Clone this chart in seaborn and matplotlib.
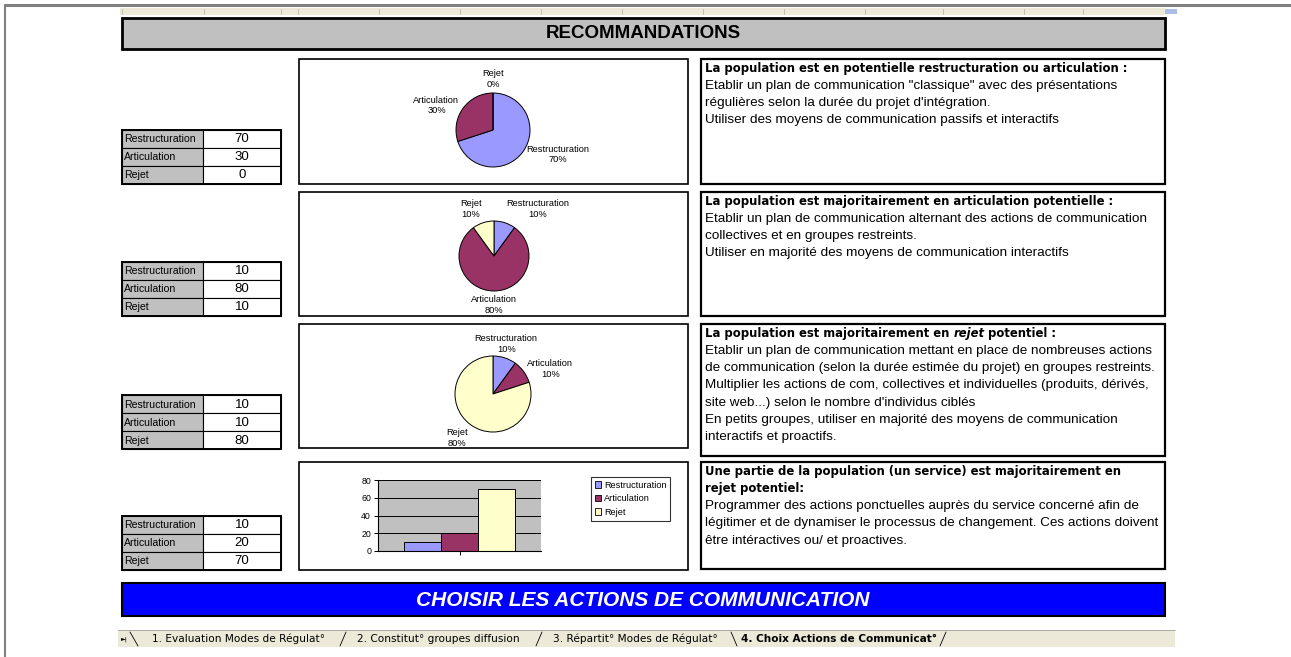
import math
import matplotlib
matplotlib.use("Agg")
import matplotlib.pyplot as plt
from matplotlib.patches import Rectangle, Patch
import pandas as pd
import seaborn as sns

categories = ["Restructuration", "Articulation", "Rejet"]
couleurs = ["#9999ff", "#993366", "#ffffcc"]
profil_1 = [70, 30, 0]
profil_2 = [10, 80, 10]
profil_3 = [10, 10, 80]
profil_4 = [10, 20, 70]
ticks_barres = [0, 20, 40, 60, 80]

titre_1 = ["La population est en potentielle restructuration ou articulation :"]
texte_1 = ['Etablir un plan de communication "classique" avec des présentations',
           "régulières selon la durée du projet d'intégration.",
           "Utiliser des moyens de communication passifs et interactifs"]
titre_2 = ["La population est majoritairement en articulation potentielle :"]
texte_2 = ["Etablir un plan de communication alternant des actions de communication",
           "collectives et en groupes restreints.",
           "Utiliser en majorité des moyens de communication interactifs"]
titre_3 = [[("La population est majoritairement en ", "normal"), ("rejet", "italic"),
            (" potentiel :", "normal")]]
texte_3 = ["Etablir un plan de communication mettant en place de nombreuses actions",
           "de communication (selon la durée estimée du projet) en groupes restreints.",
           "Multiplier les actions de com, collectives et individuelles (produits, dérivés,",
           "site web...) selon le nombre d'individus ciblés",
           "En petits groupes, utiliser en majorité des moyens de communication",
           "interactifs et proactifs."]
titre_4 = ["Une partie de la population (un service) est majoritairement en",
           "rejet potentiel:"]
texte_4 = ["Programmer des actions ponctuelles auprès du service concerné afin de",
           "légitimer et de dynamiser le processus de changement. Ces actions doivent",
           "être intéractives ou/ et proactives."]
onglets = ["1. Evaluation Modes de Régulat°", "2. Constitut° groupes diffusion",
           "3. Répartit° Modes de Régulat°", "4. Choix Actions de Communicat°"]

sns.set_theme(style="white")
plt.rcParams["font.family"] = ["Liberation Sans", "DejaVu Sans"]
plt.rcParams["text.color"] = "black"
plt.rcParams["xtick.color"] = "black"
plt.rcParams["ytick.color"] = "black"
plt.rcParams["axes.labelcolor"] = "black"

W, H = 1291, 657
fig = plt.figure(figsize=(W / 100, H / 100), dpi=100)
fig.patch.set_facecolor("white")

cv = fig.add_axes([0, 0, 1, 1])
cv.set_xlim(0, W)
cv.set_ylim(H, 0)
cv.axis("off")


def px_ax(x0, y0, x1, y1):
    return fig.add_axes([x0 / W, 1 - y1 / H, (x1 - x0) / W, (y1 - y0) / H])


def rect(x0, y0, x1, y1, fc="none", ec="black", lw=1.0, z=1):
    cv.add_patch(Rectangle((x0, y0), x1 - x0, y1 - y0, facecolor=fc,
                           edgecolor=ec, linewidth=lw, zorder=z))


# cadre de la fenetre et regle des colonnes
cv.plot([5, W], [5, 5], color="#808080", lw=2.2)
cv.plot([5, 5], [5, H], color="#808080", lw=1.5)
rect(120, 8, 1165, 15, fc="#ece9d8", ec="none")
for sx in [122, 204, 281, 298, 379, 460, 541, 622, 703, 784, 865, 943, 1024, 1083]:
    cv.plot([sx, sx], [9, 14], color="#b8b4a0", lw=0.6)
rect(1165, 9, 1177, 14, fc="#a9bde6", ec="none")

# bandeau du haut
rect(122, 18, 1165, 49, fc="#c0c0c0", ec="black", lw=2)
cv.text(643, 34, "RECOMMANDATIONS", ha="center", va="center", fontsize=13.5,
        fontweight="bold")


def tableau(top, valeurs):
    for i, (nom, v) in enumerate(zip(categories, valeurs)):
        y0 = top + 18 * i
        rect(122, y0, 203, y0 + 18, fc="#c0c0c0", lw=0.8)
        rect(203, y0, 281, y0 + 18, fc="white", lw=0.8)
        cv.text(124, y0 + 9.5, nom, va="center", fontsize=7.6)
        cv.text(242, y0 + 9.5, str(v), ha="center", va="center", fontsize=9.5)
    rect(122, top, 281, top + 54, lw=1.4, z=3)


def camembert(cx, cy, r, valeurs):
    ax = px_ax(cx - 2.2 * r, cy - 2.2 * r, cx + 2.2 * r, cy + 2.2 * r)
    ax.set_facecolor("none")
    total = sum(valeurs)
    etiquettes = [f"{n}\n{v / total * 100:.0f}%" for n, v in zip(categories, valeurs)]
    _, textes = ax.pie(valeurs, colors=couleurs, startangle=90, counterclock=False,
                       labels=etiquettes, labeldistance=1.1,
                       wedgeprops=dict(edgecolor="black", linewidth=0.7),
                       textprops=dict(fontsize=6.7))
    ax.set_xlim(-2.2, 2.2)
    ax.set_ylim(-2.2, 2.2)
    ax.axis("off")
    # etiquettes posees juste a l'exterieur du disque, comme dans Excel
    angles = []
    for t in textes:
        x, y = t.get_position()
        a = math.atan2(y, x)
        angles.append(a)
        c, s = math.cos(a), math.sin(a)
        t.set_position((1.12 * c, 1.12 * s))
        t.set_ha("center" if abs(c) < 0.35 else ("left" if c > 0 else "right"))
        t.set_va("bottom" if s > 0.7 else ("top" if s < -0.7 else "center"))
        t.set_multialignment("center")
    rend = fig.canvas.get_renderer()
    boites = [t.get_window_extent(rend) for t in textes]
    for i in range(len(textes)):
        for j in range(i + 1, len(textes)):
            if boites[i].overlaps(boites[j]):
                for k in (i, j):
                    textes[k].set_ha("left" if math.cos(angles[k]) > 0 else "right")


def encadre(top, bottom, titres, lignes):
    rect(701, top, 1165, bottom, fc="white", lw=1.6)
    y = top + 9.5
    for t in titres:
        if isinstance(t, str):
            cv.text(705, y, t, va="center", fontsize=8.4, fontweight="bold",
                    family="DejaVu Sans")
        else:
            prev = None
            for morceau, style in t:
                if prev is None:
                    prev = cv.text(705, y, morceau, va="center", fontsize=8.4,
                                   fontweight="bold", style=style, family="DejaVu Sans")
                else:
                    prev = cv.annotate(morceau, xy=(1, 0), xycoords=prev, va="bottom",
                                       ha="left", fontsize=8.4, fontweight="bold",
                                       style=style, family="DejaVu Sans")
        y += 17.3
    for l in lignes:
        cv.text(705, y, l, va="center", fontsize=9.7)
        y += 17.3


# cadres des graphiques
for top, bottom in [(59, 184), (192, 316), (324, 448), (462, 570)]:
    rect(299, top, 688, bottom, fc="white", lw=1.2)

tableau(130, profil_1)
tableau(262, profil_2)
tableau(395, profil_3)
tableau(516, profil_4)

camembert(493, 130, 37, profil_1)
camembert(494, 256, 35, profil_2)
camembert(493, 394, 38, profil_3)

encadre(59, 184, titre_1, texte_1)
encadre(192, 316, titre_2, texte_2)
encadre(324, 456, titre_3, texte_3)
encadre(462, 569, titre_4, texte_4)

# histogramme
df = pd.DataFrame({"serie": [""] * 3, "categorie": categories, "valeur": profil_4})
bx = px_ax(378, 480, 541, 551)
sns.barplot(data=df, x="serie", y="valeur", hue="categorie", hue_order=categories,
            palette=couleurs, width=0.675, edgecolor="black", linewidth=0.7,
            legend=False, ax=bx, saturation=1)
bx.set_facecolor("#c0c0c0")
bx.set_ylim(0, 80)
bx.set_yticks(ticks_barres)
bx.set_yticklabels([str(t) for t in ticks_barres], fontsize=6.3)
bx.set_xticks([0])
bx.set_xticklabels([""])
bx.set_xlabel("")
bx.set_ylabel("")
bx.tick_params(axis="both", length=3, width=0.7, color="black", pad=2, left=True, bottom=True)
for t in ticks_barres[1:]:
    bx.axhline(t, color="black", lw=0.7, zorder=0.5)
for s in ["top", "right"]:
    bx.spines[s].set_visible(False)
for s in ["left", "bottom"]:
    bx.spines[s].set_color("black")
    bx.spines[s].set_linewidth(0.8)
poignees = [Patch(facecolor=c, edgecolor="black", linewidth=0.6, label=n)
            for n, c in zip(categories, couleurs)]
leg = bx.legend(handles=poignees, loc="upper left", bbox_to_anchor=(591 / W, 1 - 477 / H),
                bbox_transform=fig.transFigure, fontsize=6.6, frameon=True, fancybox=False,
                borderpad=0.4, handlelength=0.7, handleheight=0.7, handletextpad=0.3,
                labelspacing=0.5, borderaxespad=0)
leg.get_frame().set_edgecolor("black")
leg.get_frame().set_linewidth(0.8)

# bandeau du bas
rect(122, 583, 1165, 616, fc="#0000ff", ec="black", lw=1.5)
cv.text(643, 600, "CHOISIR LES ACTIONS DE COMMUNICATION", ha="center", va="center",
        fontsize=15, fontweight="bold", style="italic", color="white")

# onglets de la feuille
rect(118, 630, 1175, 647, fc="#ece9d8", ec="none")
cv.plot([118, 1175], [630, 630], color="#a0a0a0", lw=0.6)
cv.text(121, 639, "►|", va="center", fontsize=4.5, family="DejaVu Sans")
for x0, x1 in [(130, 138), (731, 737)]:
    cv.plot([x0, x1], [632, 646], color="black", lw=0.6)
for x0, x1 in [(346, 340), (542, 536), (946, 940)]:
    cv.plot([x0, x1], [632, 646], color="black", lw=0.6)
for (x, nom) in zip([152, 357, 553, 741], onglets):
    cv.text(x, 639, nom, va="center", fontsize=7.6, family="DejaVu Sans",
            fontweight="bold" if nom.startswith("4") else "normal")

fig.savefig("out.png", dpi=100)
